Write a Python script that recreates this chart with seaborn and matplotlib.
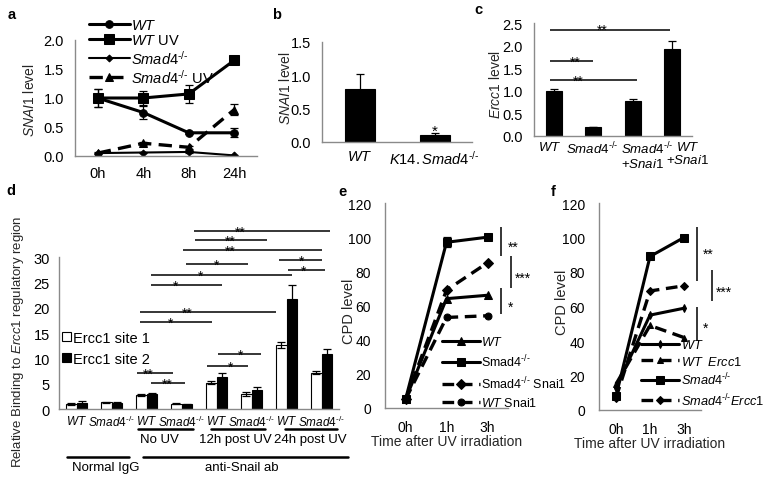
import numpy as np
import pandas as pd
import matplotlib
matplotlib.use("Agg")
import matplotlib.pyplot as plt
from matplotlib.container import BarContainer
from matplotlib.transforms import ScaledTranslation
import seaborn as sns

HY = "\u2010"  # short hyphen for the -/- superscripts
KO = "^{" + HY + "/" + HY + "}"

# ---------------- data ----------------
# panel a
times_a = ['0h', '4h', '8h', '24h']
a_wt = [1.00, 0.75, 0.40, 0.40]
a_wt_err = [0.15, 0.12, 0.02, 0.08]
a_wtuv = [1.00, 1.00, 1.07, 1.65]
a_wtuv_err = [0.15, 0.12, 0.15, 0.07]
a_smad = [0.05, 0.06, 0.07, 0.01]
a_smad_err = [0.01, 0.01, 0.02, 0.005]
a_smaduv = [0.05, 0.22, 0.15, 0.80]
a_smaduv_err = [0.02, 0.03, 0.03, 0.10]
a_labels = [r"$\mathit{WT}$", r"$\mathit{WT}$ UV", r"$\mathit{Smad4}" + KO + "$",
            r"$\mathit{Smad4}" + KO + "$ UV"]

# panel b
b_cats = ['WT', 'K14.Smad4-/-']
b_ticklabels = [r"$\mathit{WT}$", r"$\mathit{K14.Smad4}" + KO + "$"]
b_vals = [0.80, 0.10]
b_err = [0.22, 0.03]
b_sig = ['', '*']

# panel c
c_cats = ['WT', 'Smad4-/-', 'Smad4-/- +Snai1', 'WT +Snai1']
c_ticklabels = [r"$\mathit{WT}$", r"$\mathit{Smad4}" + KO + "$",
                r"$\mathit{Smad4}" + KO + "$" + "\n" + r"$\mathit{+Snai1}$",
                r"$\mathit{WT}$" + "\n" + r"$\mathit{+Snai1}$"]
c_vals = [1.00, 0.20, 0.77, 1.93]
c_err = [0.05, 0.01, 0.05, 0.17]
c_sig = [  # (x0, x1, level, label, label x)
    (-0.09, 2.94, 2.35, '**', 1.22),
    (-0.09, 0.99, 1.66, '**', 0.54),
    (-0.09, 2.11, 1.24, '**', 0.61),
]

# panel d
d_groups = ['IgG WT', 'IgG Smad4', 'NoUV WT', 'NoUV Smad4', '12h WT', '12h Smad4', '24h WT', '24h Smad4']
d_ticklabels = [r"$\mathit{WT}$", r"$\mathit{Smad4}" + KO + "$"] * 4
d_site1 = [1.0, 1.3, 2.8, 1.0, 5.2, 3.0, 12.7, 7.2]
d_site1_err = [0.2, 0.1, 0.15, 0.1, 0.3, 0.4, 0.6, 0.3]
d_site2 = [1.2, 1.2, 3.0, 0.9, 6.4, 3.8, 21.8, 10.8]
d_site2_err = [0.4, 0.1, 0.1, 0.1, 0.7, 0.5, 2.7, 1.0]
d_sites = ['Ercc1 site 1', 'Ercc1 site 2']
d_sig = [  # (x0, x1, level, label, label x)
    (3.36, 7.24, 35.1, '**', 4.67),
    (3.39, 5.44, 33.3, '**', 4.39),
    (3.04, 7.01, 31.4, '**', 4.39),
    (3.13, 4.90, 28.6, '*', 4.01),
    (5.79, 7.01, 29.4, '*', 6.44),
    (2.13, 6.16, 26.4, '*', 3.53),
    (6.04, 7.10, 27.4, '*', 6.50),
    (2.13, 4.16, 24.5, '*', 2.84),
    (1.81, 5.70, 19.1, '**', 3.16),
    (1.81, 3.87, 17.2, '*', 2.70),
    (1.73, 2.76, 7.1, '**', 2.04),
    (2.13, 3.10, 5.1, '**', 2.59),
    (3.73, 4.90, 8.5, '*', 4.39),
    (4.04, 5.27, 10.8, '*', 4.70),
]
d_conditions = [('No UV', 1.76, 3.33, 2.38), ('12h post UV', 3.84, 5.39, 4.53), ('24h post UV', 5.96, 7.44, 6.67)]
d_antibodies = [('Normal IgG', -0.27, 1.50, 0.84), ('anti-Snail ab', 1.90, 7.76, 4.73)]

# panel e
times_e = ['0h', '1h', '3h']
e_wt = [5, 64, 66]
e_smad = [5, 97, 100]
e_smad_err = [1, 3, 1]
e_smad_snai = [5, 69, 85]
e_wt_snai = [5, 53, 54]
e_labels = [r"$\mathit{WT}$", r"Smad4$" + KO + "$", r"Smad4$" + KO + "$ Snai1", r"$\mathit{WT}$ Snai1"]
e_sig = [(2.33, 106, 89, '**', 2.62, 97), (2.57, 89, 70, '***', 2.86, 79), (2.33, 70, 55, '*', 2.55, 62)]

# panel f
times_f = ['0h', '1h', '3h']
f_wt = [13, 55, 59]
f_wt_ercc = [15, 49, 42]
f_smad = [8, 89, 100]
f_smad_ercc = [7, 69, 72]
f_labels = [r"$\mathit{WT}$", r"$\mathit{WT\ \ Ercc1}$", r"$\mathit{Smad4}" + KO + "$",
            r"$\mathit{Smad4}" + KO + r"\mathit{Ercc1}$"]
f_sig = [(2.38, 106, 75, '**', 2.72, 93), (2.82, 81, 63, '***', 3.18, 71), (2.38, 60, 40, '*', 2.62, 50)]

# ---------------- style ----------------
sns.set_style("white")
plt.rcParams['font.family'] = ['Liberation Sans', 'DejaVu Sans']
plt.rcParams['mathtext.fontset'] = 'custom'
plt.rcParams['mathtext.rm'] = 'Liberation Sans'
plt.rcParams['mathtext.it'] = 'Liberation Sans:italic'
plt.rcParams['mathtext.bf'] = 'Liberation Sans:bold'
plt.rcParams['mathtext.fallback'] = 'stix'
plt.rcParams['text.color'] = 'black'
plt.rcParams['xtick.color'] = 'black'
plt.rcParams['ytick.color'] = 'black'

W, H = 764, 481
fig = plt.figure(figsize=(W / 100, H / 100), dpi=100)
GRAY = '#8a8a8a'


def px_axes(l, t, r, b):
    return fig.add_axes([l / W, 1 - b / H, (r - l) / W, (b - t) / H])


def excel_axes(ax, n, xpad=3, ypad=3.5, size=10.5):
    for s in ['top', 'right']:
        ax.spines[s].set_visible(False)
    for s in ['left', 'bottom']:
        ax.spines[s].set_color(GRAY)
        ax.spines[s].set_linewidth(1.0)
    ax.set_xlim(-0.5, n - 0.5)
    ax.set_xticks(np.arange(n))
    ax.set_xticks(np.arange(n + 1) - 0.5, minor=True)
    ax.tick_params(axis='x', which='major', length=0, pad=xpad, labelsize=size)
    ax.tick_params(axis='x', which='minor', length=4, width=1, color=GRAY, direction='out')
    ax.tick_params(axis='y', length=4, width=1, color=GRAY, direction='out', pad=ypad, labelsize=size)
    ax.set_xlabel('')
    ax.grid(False)


def ylabel_at(ax, text, xpx, ypx, size=10):
    ax.set_ylabel(text, fontsize=size)
    bb = ax.get_position()
    l, t, w, h = bb.x0 * W, (1 - bb.y1) * H, bb.width * W, bb.height * H
    ax.yaxis.set_label_coords((xpx - l) / w, 1 - (ypx - t) / h)


def bar_containers(ax):
    return [c for c in ax.containers if isinstance(c, BarContainer)]


def bar_errors(ax, errs):
    for cont, err in zip(bar_containers(ax), errs):
        xs = [p.get_x() + p.get_width() / 2 for p in cont]
        ys = [p.get_height() for p in cont]
        ax.errorbar(xs, ys, yerr=err, fmt='none', ecolor='black', elinewidth=0.9,
                    capsize=3, capthick=0.9, zorder=5)


def hbracket(ax, x0, x1, y, label, xt, size=10):
    ax.plot([x0, x1], [y, y], color='black', lw=1.1, clip_on=False, solid_capstyle='butt')
    ax.annotate(label, (xt, y), xytext=(0, -3.2), textcoords='offset points',
                ha='center', va='baseline', fontsize=size, annotation_clip=False)


def vbracket(ax, x, y0, y1, label, xt, yt, size=10):
    ax.plot([x, x], [y0, y1], color='black', lw=1.1, clip_on=False, solid_capstyle='butt')
    ax.annotate(label, (xt, yt), xytext=(0, -6), textcoords='offset points',
                ha='center', va='baseline', fontsize=size, annotation_clip=False)


def panel_label(x, y, s):
    fig.text(x / W, 1 - y / H, s, fontsize=10.5, fontweight='bold', ha='left', va='center')


def shift_ticklabels(ax, dxs_px):
    for lbl, dx in zip(ax.get_xticklabels(), dxs_px):
        lbl.set_transform(lbl.get_transform() + ScaledTranslation(dx / 100, 0, fig.dpi_scale_trans))


# ---------------- panel a ----------------
ax = px_axes(75, 41, 257, 157)
styles_a = [('o', '-', 2.2, 5.5), ('s', '-', 2.2, 6.5), ('D', '-', 1.5, 3.5), ('^', (0, (4, 2.2)), 2.4, 5.5)]
for vals, errs, (mk, ls, lw, ms), lab in zip([a_wt, a_wtuv, a_smad, a_smaduv],
                                             [a_wt_err, a_wtuv_err, a_smad_err, a_smaduv_err],
                                             styles_a, a_labels):
    sns.lineplot(x=times_a, y=vals, ax=ax, color='black', marker=mk, markersize=ms,
                 linestyle=ls, linewidth=lw, markeredgecolor='black', label=lab, sort=False)
    ax.errorbar(times_a, vals, yerr=errs, fmt='none', ecolor='black', elinewidth=0.9,
                capsize=3, capthick=0.9)
excel_axes(ax, len(times_a), xpad=7, ypad=4)
ax.set_xticklabels(times_a)
ax.set_ylim(0, 2.0)
ax.set_yticks([0, 0.5, 1.0, 1.5, 2.0])
ax.set_yticklabels(['0.0', '0.5', '1.0', '1.5', '2.0'])
h, l = ax.get_legend_handles_labels()
ax.legend(h, l, loc='upper left', bbox_to_anchor=(89 / W, 1 - 19 / H), bbox_transform=fig.transFigure,
          frameon=False, borderpad=0, borderaxespad=0, handlelength=2.8, handletextpad=0.1,
          labelspacing=0.08, fontsize=10.5)
ylabel_at(ax, r"$\mathit{SNAI1}$ level", 37, 100)
panel_label(8, 15, 'a')

# ---------------- panel b ----------------
ax = px_axes(322, 43, 472, 143)
sns.barplot(x=b_cats, y=b_vals, color='black', width=0.4, errorbar=None, ax=ax,
            edgecolor='black', linewidth=0.8, saturation=1)
bar_errors(ax, [b_err])
excel_axes(ax, len(b_cats), xpad=5, ypad=4)
ax.set_xticklabels(b_ticklabels)
ax.set_ylim(0, 1.5)
ax.set_yticks([0, 0.5, 1.0, 1.5])
ax.set_yticklabels(['0.0', '0.5', '1.0', '1.5'])
for cont in bar_containers(ax):
    for p, s, e in zip(cont, b_sig, b_err):
        if s:
            ax.annotate(s, (p.get_x() + p.get_width() / 2, p.get_height() + e), xytext=(0, -1),
                        textcoords='offset points', ha='center', va='baseline', fontsize=11)
ylabel_at(ax, r"$\mathit{SNAI1}$ level", 293, 88)
panel_label(272, 15, 'b')

# ---------------- panel c ----------------
ax = px_axes(534, 24, 692, 137)
sns.barplot(x=c_cats, y=c_vals, color='black', width=0.4, errorbar=None, ax=ax,
            edgecolor='black', linewidth=0.8, saturation=1)
bar_errors(ax, [c_err])
excel_axes(ax, len(c_cats), xpad=3, ypad=4)
ax.set_xticklabels(c_ticklabels, linespacing=1.0, fontsize=9.5)
c_lbls = ax.get_xticklabels()
c_lbls[2].set_horizontalalignment('left')
c_lbls[2].set_multialignment('left')
shift_ticklabels(ax, [-4, -1, -12, 15])
ax.set_ylim(0, 2.5)
ax.set_yticks([0, 0.5, 1.0, 1.5, 2.0, 2.5])
ax.set_yticklabels(['0.0', '0.5', '1.0', '1.5', '2.0', '2.5'])
for x0, x1, lev, lab, xt in c_sig:
    hbracket(ax, x0, x1, lev, lab, xt, size=10)
ylabel_at(ax, r"$\mathit{Ercc1}$ level", 503, 85)
panel_label(474, 10, 'c')

# ---------------- panel d ----------------
ax = px_axes(59, 258, 339, 410)
df_d = pd.DataFrame({
    'group': d_groups * 2,
    'value': d_site1 + d_site2,
    'site': [d_sites[0]] * len(d_groups) + [d_sites[1]] * len(d_groups),
})
sns.barplot(data=df_d, x='group', y='value', hue='site', palette=['white', 'black'],
            width=0.6, errorbar=None, ax=ax, edgecolor='black', linewidth=0.8, saturation=1, gap=0)
bar_errors(ax, [d_site1_err, d_site2_err])
leg = ax.get_legend()
handles = leg.legend_handles
labels = [t.get_text() for t in leg.get_texts()]
leg.remove()
ax.legend(handles, labels, loc='upper left', bbox_to_anchor=(62 / W, 1 - 332 / H),
          bbox_transform=fig.transFigure, frameon=False, borderpad=0, borderaxespad=0,
          handlelength=0.6, handleheight=0.6, handletextpad=0.15, labelspacing=0.45, fontsize=10.5)
excel_axes(ax, len(d_groups), xpad=3.5, ypad=2.5)
ax.set_xticklabels(d_ticklabels, fontsize=8.5)
ax.set_ylim(0, 30)
ax.set_yticks([0, 5, 10, 15, 20, 25, 30])
for x0, x1, lev, lab, xt in d_sig:
    hbracket(ax, x0, x1, lev, lab, xt, size=10)
tr = ax.get_xaxis_transform()
for name, x0, x1, xt in d_conditions:
    ax.plot([x0, x1], [-0.133, -0.133], color='black', lw=1.8, transform=tr, clip_on=False)
    ax.text(xt, -0.195, name, transform=tr, ha='center', va='center', fontsize=9.5)
for name, x0, x1, xt in d_antibodies:
    ax.plot([x0, x1], [-0.316, -0.316], color='black', lw=1.8, transform=tr, clip_on=False)
    ax.text(xt, -0.383, name, transform=tr, ha='center', va='center', fontsize=9.5)
ylabel_at(ax, r"Relative Binding to $\mathit{Ercc1}$ regulatory region", 26, 342, size=9.5)
panel_label(6, 191, 'd')

# ---------------- panel e ----------------
ax = px_axes(385, 204, 508, 409)
styles_e = [('^', '-', 2.2, 5.5), ('s', '-', 2.2, 5.5), ('D', (0, (3.5, 2)), 2.4, 5), ('o', (0, (3.5, 2)), 2.4, 5)]
for vals, (mk, ls, lw, ms), lab in zip([e_wt, e_smad, e_smad_snai, e_wt_snai], styles_e, e_labels):
    sns.lineplot(x=times_e, y=vals, ax=ax, color='black', marker=mk, markersize=ms,
                 linestyle=ls, linewidth=lw, markeredgecolor='black', label=lab, sort=False)
ax.errorbar(times_e, e_smad, yerr=e_smad_err, fmt='none', ecolor='black', elinewidth=0.9,
            capsize=3, capthick=0.9)
excel_axes(ax, len(times_e), xpad=9, ypad=6, size=10)
ax.set_xticklabels(times_e)
ax.set_ylim(0, 120)
ax.set_yticks(range(0, 121, 20))
h, l = ax.get_legend_handles_labels()
ax.legend(h, l, loc='upper left', bbox_to_anchor=(442 / W, 1 - 336 / H), bbox_transform=fig.transFigure,
          frameon=False, borderpad=0, borderaxespad=0, handlelength=3.0, handletextpad=0.1,
          labelspacing=0.4, fontsize=9)
for x, y0, y1, lab, xt, yt in e_sig:
    vbracket(ax, x, y0, y1, lab, xt, yt)
ax.set_xlabel('Time after UV irradiation', fontsize=10, labelpad=0)
ylabel_at(ax, 'CPD level', 356, 311, size=10.5)
panel_label(338, 192, 'e')

# ---------------- panel f ----------------
ax = px_axes(599, 204, 701, 411)
styles_f = [('d', '-', 2.2, 4), ('^', (0, (3.5, 2)), 2.4, 5), ('s', '-', 2.2, 5.5), ('D', (0, (3.5, 2)), 2.4, 4)]
for vals, (mk, ls, lw, ms), lab in zip([f_wt, f_wt_ercc, f_smad, f_smad_ercc], styles_f, f_labels):
    sns.lineplot(x=times_f, y=vals, ax=ax, color='black', marker=mk, markersize=ms,
                 linestyle=ls, linewidth=lw, markeredgecolor='black', label=lab, sort=False)
excel_axes(ax, len(times_f), xpad=9, ypad=6, size=10)
ax.set_xticklabels(times_f)
ax.set_ylim(0, 120)
ax.set_yticks(range(0, 121, 20))
h, l = ax.get_legend_handles_labels()
ax.legend(h, l, loc='upper left', bbox_to_anchor=(641 / W, 1 - 339 / H), bbox_transform=fig.transFigure,
          frameon=False, borderpad=0, borderaxespad=0, handlelength=3.0, handletextpad=0.1,
          labelspacing=0.28, fontsize=9.2)
for x, y0, y1, lab, xt, yt in f_sig:
    vbracket(ax, x, y0, y1, lab, xt, yt)
ax.set_xlabel('Time after UV irradiation', fontsize=10, labelpad=0)
ylabel_at(ax, 'CPD level', 569, 302, size=10.5)
panel_label(551, 192, 'f')

fig.savefig('out.png', dpi=100)
